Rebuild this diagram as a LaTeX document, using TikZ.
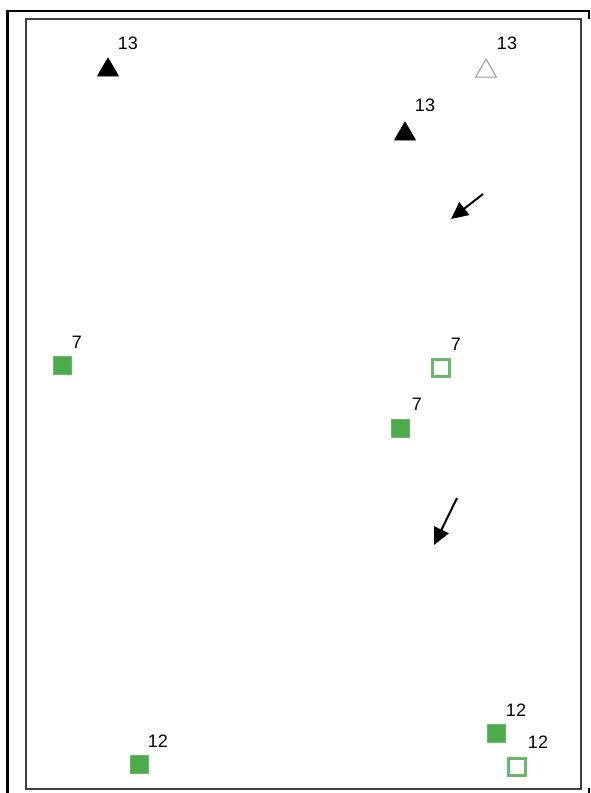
\documentclass[tikz,border=0pt]{standalone}
\usepackage{fontspec}
\setmainfont{Liberation Sans}
\usetikzlibrary{arrows.meta,positioning,shapes.geometric}
\definecolor{plotgreen}{RGB}{76,172,76}
\begin{document}
\begin{tikzpicture}[x=1pt,y=-1pt,>={Triangle[length=17pt,width=16pt]},
  tri/.style={regular polygon,regular polygon sides=3,minimum size=24pt,inner sep=0pt,draw=black,fill=black,line width=0.8pt},
  otri/.style={tri,draw=black!40,fill=white,line width=1pt},
  sq/.style={rectangle,minimum size=18pt,inner sep=0pt,fill=plotgreen,draw=plotgreen!85!white,line width=0.8pt},
  osq/.style={sq,fill=white,line width=2.4pt,minimum size=17pt},
  num/.style={inner sep=0pt,font=\fontsize{18}{20}\selectfont},
  pointer/.style={->,line width=2pt}]
\useasboundingbox (0,0) rectangle (590,793);
% frames
\draw[line width=2.2pt] (7.5,793) -- (7.5,11) -- (589,11) -- (589,19);
\draw[line width=2.2pt] (589,788) -- (589,793);
\draw[line width=1.4pt,black!75] (26,19) rectangle (581,789);
% triangles
\node[tri] (t1) at (108,70) {};
\node[otri] (t2) at (486,71) {};
\node[tri] (t3) at (405,134) {};
\node[num] (l1) at (128,43) {13};
\node[num] (l2) at (507,43) {13};
\node[num] (l3) at (425,105) {13};
% squares
\node[sq] (s1) at (62,365) {};
\node[osq] (s2) at (441,368) {};
\node[sq] (s3) at (400,428) {};
\node[num] (l4) at (77,342) {7};
\node[num] (l5) at (456,344) {7};
\node[num] (l6) at (417,404) {7};
\node[sq] (s4) at (139,764) {};
\node[sq] (s5) at (496,733) {};
\node[osq] (s6) at (517,767) {};
\node[num] (l7) at (158,741) {12};
\node[num] (l8) at (516,710) {12};
\node[num] (l9) at (538,742) {12};
% arrows
\coordinate (a1) at (483,194);
\coordinate (b1) at (451,219);
\coordinate (a2) at (457,498);
\coordinate (b2) at (434,545);
\draw[pointer] (a1) -- (b1);
\draw[pointer] (a2) -- (b2);
\end{tikzpicture}
\end{document}
